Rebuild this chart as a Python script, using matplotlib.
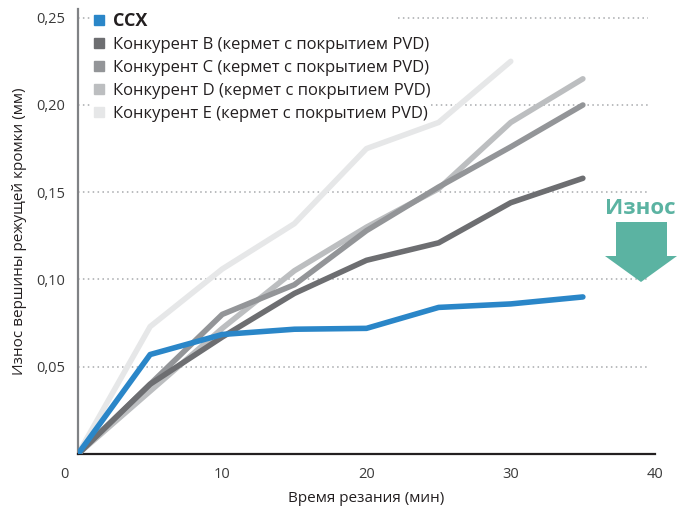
import matplotlib
matplotlib.use("Agg")
import matplotlib.pyplot as plt
from matplotlib.lines import Line2D
from matplotlib.patches import Polygon
import matplotlib.transforms as mtransforms

plt.rcParams['font.family'] = ['Open Sans', 'DejaVu Sans']

# ---- data ----
time_min = [0, 5, 10, 15, 20, 25, 30, 35]
time_min_e = [0, 5, 10, 15, 20, 25, 30]
wear_ccx = [0.0, 0.057, 0.0685, 0.0715, 0.072, 0.084, 0.086, 0.090]
wear_b = [0.0, 0.040, 0.067, 0.092, 0.111, 0.121, 0.144, 0.158]
wear_c = [0.0, 0.040, 0.080, 0.097, 0.128, 0.153, 0.176, 0.200]
wear_d = [0.0, 0.036, 0.072, 0.105, 0.130, 0.152, 0.190, 0.215]
wear_e = [0.0, 0.073, 0.106, 0.132, 0.175, 0.190, 0.225]

series_names = ["CCX",
                "Конкурент B (кермет с покрытием PVD)",
                "Конкурент C (кермет с покрытием PVD)",
                "Конкурент D (кермет с покрытием PVD)",
                "Конкурент E (кермет с покрытием PVD)"]
colors = ["#2a86c8", "#6d6e71", "#939598", "#bcbec0", "#e6e7e8"]

y_ticks = [0.05, 0.10, 0.15, 0.20, 0.25]
y_ticklabels = ["0,05", "0,10", "0,15", "0,20", "0,25"]
x_ticks = [0, 10, 20, 30, 40]
x_ticklabels = ["0", "10", "20", "30", "40"]

W, H = 678, 513
fig = plt.figure(figsize=(W / 100, H / 100), dpi=100)
ax = fig.add_axes([78 / W, 1 - 454 / H, (655 - 78) / W, (454 - 9) / H])
ax.set_xlim(0, 40)
ax.set_ylim(0, 0.255)

# gridlines (dotted), partially interrupted by legend
grid_kw = dict(colors="#a7a9ac", linestyles=(0, (1, 2.2)), linewidth=1.1, zorder=1)
for yv in y_ticks:
    if yv == 0.25:
        ax.hlines(yv, 0, 0.8, **grid_kw)
        ax.hlines(yv, 22.2, 39.5, **grid_kw)
    elif yv == 0.20:
        ax.hlines(yv, 0, 0.8, **grid_kw)
        ax.hlines(yv, 24.5, 39.5, **grid_kw)
    else:
        ax.hlines(yv, 0, 39.5, **grid_kw)

lw = 4.0
line_kw = dict(linewidth=lw, solid_capstyle="round", solid_joinstyle="round")
ax.plot(time_min_e, wear_e, color=colors[4], zorder=2, **line_kw)
ax.plot(time_min, wear_d, color=colors[3], zorder=3, **line_kw)
ax.plot(time_min, wear_c, color=colors[2], zorder=4, **line_kw)
ax.plot(time_min, wear_b, color=colors[1], zorder=5, **line_kw)
ax.plot(time_min, wear_ccx, color=colors[0], zorder=6, **line_kw)

for s in ["top", "right"]:
    ax.spines[s].set_visible(False)
ax.spines["left"].set_color("#808285")
ax.spines["left"].set_linewidth(1.6)
ax.spines["bottom"].set_color("#231f20")
ax.spines["bottom"].set_linewidth(1.6)

ax.set_yticks(y_ticks)
ax.set_yticklabels(y_ticklabels)
ax.set_xticks(x_ticks)
ax.set_xticklabels(x_ticklabels)
ax.tick_params(axis="both", length=0, labelsize=10.5, colors="#3a3a3a")
ax.tick_params(axis="y", pad=9)
ax.tick_params(axis="x", pad=9)
# shift the "0" label left
lbl0 = ax.get_xticklabels()[0]
lbl0.set_transform(lbl0.get_transform() + mtransforms.ScaledTranslation(-14 / 100, 0, fig.dpi_scale_trans))

ax.set_xlabel("Время резания (мин)", fontsize=11, color="#231f20", labelpad=7)
ax.set_ylabel("Износ вершины режущей кромки (мм)", fontsize=11, color="#231f20", labelpad=7)

# legend
handles = [Line2D([], [], linestyle="none", marker="s", markersize=7.5,
                  markerfacecolor=c, markeredgecolor=c) for c in colors]
leg = ax.legend(handles, series_names, loc="upper left",
                bbox_to_anchor=(93 / W, 1 - 12 / H), bbox_transform=fig.transFigure,
                frameon=False, handlelength=0.75, handletextpad=0.45,
                labelspacing=0.42, fontsize=12, borderaxespad=0, borderpad=0)
texts = leg.get_texts()
texts[0].set_fontweight("bold")
texts[0].set_fontsize(13)
for t in texts:
    t.set_color("#231f20")

# wear indicator
teal = "#5bb3a2"
fig.text(640 / W, 1 - 208 / H, "Износ", color=teal, fontsize=16, fontweight="bold",
         ha="center", va="center")
arrow_pts = [(616, 222), (667, 222), (667, 256), (677, 256), (641, 282),
             (605, 256), (616, 256)]
arrow = Polygon([(x / W, 1 - y / H) for x, y in arrow_pts], closed=True,
                transform=fig.transFigure, facecolor=teal, edgecolor="none")
fig.patches.append(arrow)

fig.savefig("out.png", dpi=100)
